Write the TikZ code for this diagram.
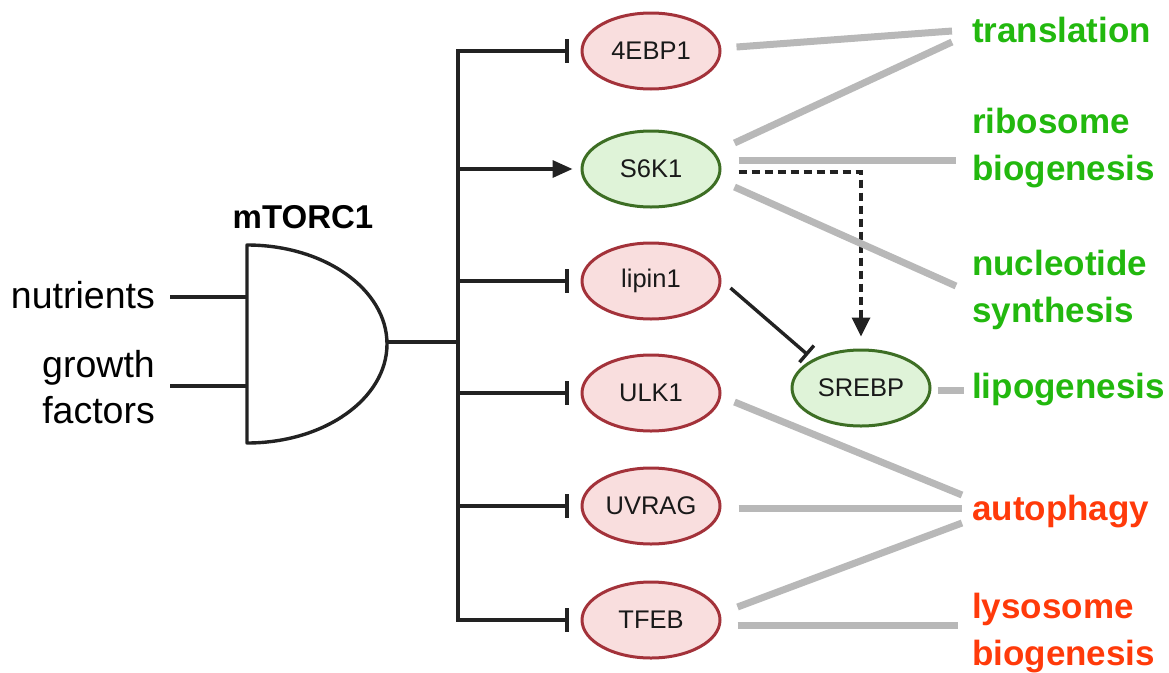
\documentclass[tikz,border=0pt]{standalone}
\usepackage{fontspec}
\setmainfont{Liberation Sans}
\usetikzlibrary{arrows.meta,shapes.geometric,calc}
\definecolor{inhred}{HTML}{A3323A}
\definecolor{inhfill}{HTML}{F9DEDE}
\definecolor{actgreen}{HTML}{3D6E24}
\definecolor{actfill}{HTML}{DFF3D8}
\definecolor{procgray}{HTML}{B8B8B8}
\definecolor{upgreen}{HTML}{22B80E}
\definecolor{downred}{HTML}{FF3A0A}
\definecolor{wirecol}{HTML}{222222}
\def\gatebody{-- ++(0,198) arc[start angle=90, end angle=-90, x radius=140, y radius=99] -- cycle}
\tikzset{
  inhibited/.style={ellipse, draw=inhred, fill=inhfill, line width=3pt,
    minimum width=138pt, minimum height=76pt, inner sep=0pt,
    font=\fontsize{25.5}{30}\selectfont, text=black!90},
  activated/.style={inhibited, draw=actgreen, fill=actfill},
  wire/.style={draw=wirecol, line width=3.4pt},
  blocks/.style={-{Bar[width=24pt]}},
  link/.style={draw=procgray, line width=7pt},
  upproc/.style={anchor=base west, inner sep=0pt, align=left, text=upgreen,
    font=\fontsize{35}{47}\selectfont\bfseries},
  downproc/.style={upproc, text=downred},
  input/.style={anchor=base east, inner sep=0pt, align=right,
    font=\fontsize{37.5}{46}\selectfont}
}
\begin{document}
\begin{tikzpicture}[x=1pt, y={(0pt,-1pt)}]
\useasboundingbox (0,0) rectangle (1169,672);
% mTORC1 gate
\draw[wire, line join=round] (247,245) \gatebody;
\node[anchor=base, inner sep=0pt, font=\fontsize{33}{38}\selectfont\bfseries] (mtorc) at (303,228) {mTORC1};
\coordinate (gout) at (387,342);
\coordinate (bus) at (458,342);
% multi-line texts sit on their last baseline
\node[input] (nutr) at (155,308) {nutrients};
\node[input] (grow) at (155,423) {growth\\factors};
\coordinate (nutrin) at (247,297);
\coordinate (growin) at (247,386);
\draw[wire] ($(nutrin)+(-77,0)$) -- (nutrin);
\draw[wire] ($(growin)+(-77,0)$) -- (growin);
\draw[wire] (gout) -- (bus);
% targets
\node[inhibited] (ebp)   at (651,51)  {4EBP1};
\node[activated] (s6k)   at (651,169) {S6K1};
\node[inhibited] (lipin) at (651,281) {lipin1};
\node[inhibited] (ulk)   at (651,393) {ULK1};
\node[inhibited] (uvrag) at (651,506) {UVRAG};
\node[inhibited] (tfeb)  at (651,620) {TFEB};
\node[activated] (srebp) at (861,388) {SREBP};
\draw[wire, {Bar[width=24pt]}-{Bar[width=24pt]}, shorten <=12pt, shorten >=12pt]
  (ebp) -| (bus) |- (tfeb);
\draw[wire, -{Triangle[width=17pt,length=20pt]}, shorten >=8pt] (bus |- s6k) -- (s6k);
\draw[wire, blocks, shorten >=12pt] (bus |- lipin) -- (lipin);
\draw[wire, blocks, shorten >=12pt] (bus |- ulk) -- (ulk);
\draw[wire, blocks, shorten >=12pt] (bus |- uvrag) -- (uvrag);
\draw[wire, -{Bar[width=22pt]}] ($(lipin.east)+(9,7)$) -- ($(srebp)+(-53,-33)$);
\draw[wire, dash pattern=on 8pt off 5pt, -{Triangle[width=18pt,length=19pt]}]
  ($(s6k.east)+(17,3)$) -| ($(srebp.north)+(0,-12)$);
% processes
\node[upproc] (trans) at (972,42)  {translation};
\node[upproc] (ribo)  at (972,180) {ribosome\\biogenesis};
\node[upproc] (nucl)  at (972,322) {nucleotide\\synthesis};
\node[upproc] (lipo)  at (972,398) {lipogenesis};
\node[downproc] (auto) at (972,520) {autophagy};
\node[downproc] (lyso) at (972,665) {lysosome\\biogenesis};
\draw[link] ($(ebp.east)+(15,-4)$) -- ($(trans.base west)+(-20,-11)$);
\draw[link] ($(s6k.east)+(13,-26)$) -- ($(trans.base west)+(-20,0)$);
\draw[link] ($(s6k.east)+(17,-9)$) -- ($(ribo.base west)+(-16,-20)$);
\draw[link] ($(s6k.east)+(13,18)$) -- ($(nucl.base west)+(-16,-36)$);
\draw[link] ($(srebp.east)+(6,2)$) -- ($(lipo.base west)+(-8,-8)$);
\draw[link] ($(ulk.east)+(13,9)$) -- ($(auto.base west)+(-10,-25)$);
\draw[link] ($(uvrag.east)+(17,2)$) -- ($(auto.base west)+(-10,-12)$);
\draw[link] ($(tfeb.east)+(16,-13)$) -- ($(auto.base west)+(-10,3)$);
\draw[link] ($(tfeb.east)+(16,5)$) -- ($(lyso.base west)+(-14,-40)$);
\end{tikzpicture}
\end{document}
